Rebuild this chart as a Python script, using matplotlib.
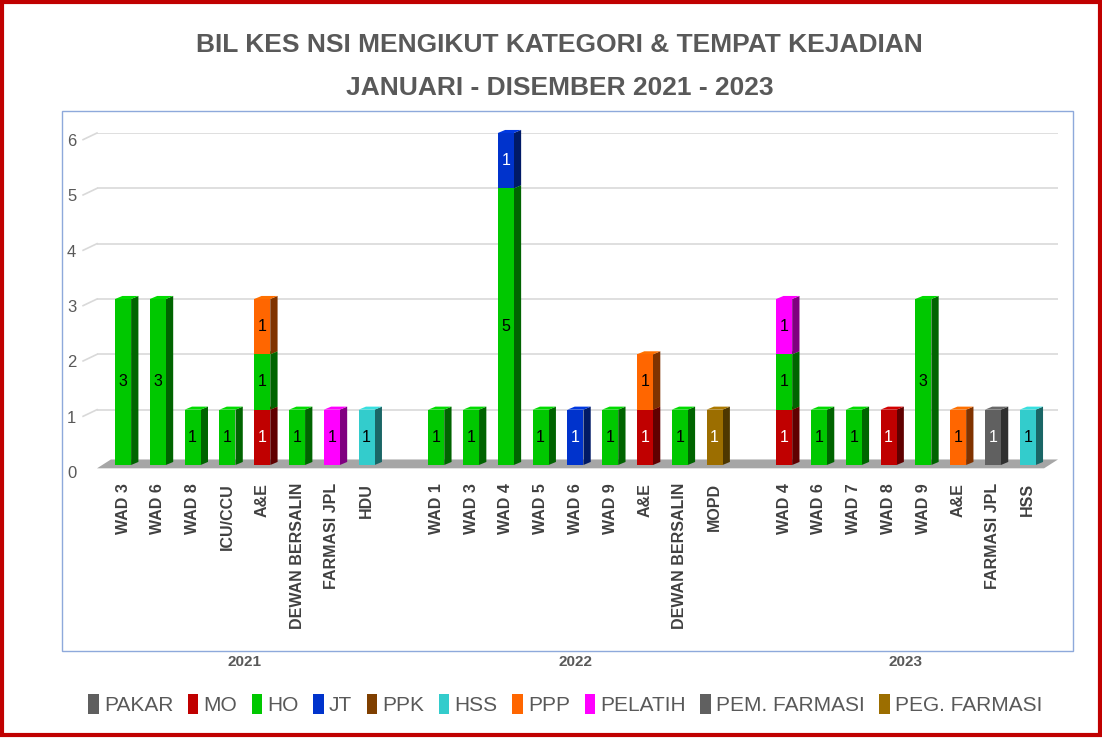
import matplotlib.pyplot as plt
import numpy as np
from matplotlib.patches import Polygon, Rectangle, Patch
from matplotlib.transforms import ScaledTranslation
from matplotlib.colors import to_rgb

plt.rcParams['font.family'] = ['Liberation Sans', 'DejaVu Sans']

places = ['WAD 3', 'WAD 6', 'WAD 8', 'ICU/CCU', 'A&E', 'DEWAN BERSALIN', 'FARMASI JPL', 'HDU',
          'WAD 1', 'WAD 3', 'WAD 4', 'WAD 5', 'WAD 6', 'WAD 9', 'A&E', 'DEWAN BERSALIN', 'MOPD',
          'WAD 4', 'WAD 6', 'WAD 7', 'WAD 8', 'WAD 9', 'A&E', 'FARMASI JPL', 'HSS']
years = ['2021'] * 8 + ['2022'] * 9 + ['2023'] * 8

pakar   = [0, 0, 0, 0, 0, 0, 0, 0,  0, 0, 0, 0, 0, 0, 0, 0, 0,  0, 0, 0, 0, 0, 0, 0, 0]
mo      = [0, 0, 0, 0, 1, 0, 0, 0,  0, 0, 0, 0, 0, 0, 1, 0, 0,  1, 0, 0, 1, 0, 0, 0, 0]
ho      = [3, 3, 1, 1, 1, 1, 0, 0,  1, 1, 5, 1, 0, 1, 0, 1, 0,  1, 1, 1, 0, 3, 0, 0, 0]
jt      = [0, 0, 0, 0, 0, 0, 0, 0,  0, 0, 1, 0, 1, 0, 0, 0, 0,  0, 0, 0, 0, 0, 0, 0, 0]
ppk     = [0, 0, 0, 0, 0, 0, 0, 0,  0, 0, 0, 0, 0, 0, 0, 0, 0,  0, 0, 0, 0, 0, 0, 0, 0]
hss     = [0, 0, 0, 0, 0, 0, 0, 1,  0, 0, 0, 0, 0, 0, 0, 0, 0,  0, 0, 0, 0, 0, 0, 0, 1]
ppp     = [0, 0, 0, 0, 1, 0, 0, 0,  0, 0, 0, 0, 0, 0, 1, 0, 0,  0, 0, 0, 0, 0, 1, 0, 0]
pelatih = [0, 0, 0, 0, 0, 0, 1, 0,  0, 0, 0, 0, 0, 0, 0, 0, 0,  1, 0, 0, 0, 0, 0, 0, 0]
pem     = [0, 0, 0, 0, 0, 0, 0, 0,  0, 0, 0, 0, 0, 0, 0, 0, 0,  0, 0, 0, 0, 0, 0, 1, 0]
peg     = [0, 0, 0, 0, 0, 0, 0, 0,  0, 0, 0, 0, 0, 0, 0, 0, 1,  0, 0, 0, 0, 0, 0, 0, 0]

series_names = ['PAKAR', 'MO', 'HO', 'JT', 'PPK', 'HSS', 'PPP', 'PELATIH', 'PEM. FARMASI', 'PEG. FARMASI']
series_vals = [pakar, mo, ho, jt, ppk, hss, ppp, pelatih, pem, peg]
colors = ['#5F5F5F', '#C00000', '#00C800', '#0033CC', '#7F3F00', '#33CCCC',
          '#FF6600', '#FF00FF', '#606060', '#9C6E00']
label_col = ['white', 'white', 'black', 'white', 'white', 'black',
             'black', 'black', 'white', 'white']

# positions with one blank slot between years
year_list = ['2021', '2022', '2023']
xpos = np.array([i + year_list.index(y) for i, y in enumerate(years)], dtype=float)

fig = plt.figure(figsize=(11.02, 7.38), dpi=100)
ax = fig.add_axes([97 / 1102, (738 - 465) / 738, 961 / 1102, 332 / 738])

w = 0.46      # front face
d = 0.21      # depth (side face)
dy = 0.055    # depth rise

bottom = np.zeros(len(places))
for name, vals, c, lc in zip(series_names, series_vals, colors, label_col):
    vals = np.array(vals, dtype=float)
    side = tuple(np.array(to_rgb(c)) * 0.5)
    top = tuple(np.minimum(np.array(to_rgb(c)) * 1.1, 1))
    for x, v, b in zip(xpos, vals, bottom):
        if v == 0:
            continue
        y0, y1 = b, b + v
        ax.add_patch(Polygon([(x + w / 2, y0), (x + w / 2 + d, y0 + dy),
                              (x + w / 2 + d, y1 + dy), (x + w / 2, y1)],
                             closed=True, fc=side, ec='none', zorder=3, clip_on=False))
        ax.add_patch(Polygon([(x - w / 2, y1), (x - w / 2 + d, y1 + dy),
                              (x + w / 2 + d, y1 + dy), (x + w / 2, y1)],
                             closed=True, fc=top, ec='none', zorder=3, clip_on=False))
    ax.bar(xpos, vals, width=w, bottom=bottom, color=c, zorder=3, clip_on=False)
    for x, v, b in zip(xpos, vals, bottom):
        if v > 0:
            ax.text(x, b + v / 2, '%d' % v, ha='center', va='center',
                    fontsize=11.5, color=lc, zorder=5)
    bottom += vals

# floor slab
x0, x1 = -0.75, xpos[-1] + 0.87
ax.add_patch(Polygon([(x0, -0.06), (x1 - 0.4, -0.06), (x1, 0.1), (x0 + 0.4, 0.1)],
                     closed=True, fc='#A6A6A6', ec='none', zorder=2, clip_on=False))

ax.set_xlim(x0, x1)
ax.set_ylim(0, 6)
ax.set_yticks(range(0, 7))
for k in range(1, 7):
    ax.axhline(k, color='#D9D9D9', lw=1.2, zorder=1)
    ax.plot([-1.15, x0], [k - 0.12, k], color='#D9D9D9', lw=1.2, clip_on=False, zorder=1)
ax.tick_params(axis='y', length=0, pad=15, labelsize=12, labelcolor='#595959')
for lab in ax.get_yticklabels():
    lab.set_transform(lab.get_transform() + ScaledTranslation(0, -5 / 72, fig.dpi_scale_trans))

ax.set_xticks(xpos)
ax.set_xticklabels(places, rotation=90, fontsize=11.5, fontweight='bold', color='#404040')
ax.tick_params(axis='x', length=0, pad=13)
for s in ax.spines.values():
    s.set_visible(False)

for y in year_list:
    xs = xpos[[i for i, yy in enumerate(years) if yy == y]]
    ax.text(xs.mean(), -0.593, y, transform=ax.get_xaxis_transform(), ha='center', va='center',
            fontsize=11, fontweight='bold', color='#595959')

# plot area frame and outer border
fig.patches.append(Rectangle((62 / 1102, (738 - 651) / 738), 1011 / 1102, 540 / 738,
                             transform=fig.transFigure, fill=False, ec='#8EA9DB', lw=1))
fig.patches.append(Rectangle((0.002, 0.004), 0.996, 0.993, transform=fig.transFigure,
                             fill=False, ec='#C00000', lw=3))

fig.text(0.508, 0.939, 'BIL KES NSI MENGIKUT KATEGORI & TEMPAT KEJADIAN', ha='center', va='center',
         fontsize=19, fontweight='bold', color='#595959')
fig.text(0.508, 0.881, 'JANUARI - DISEMBER 2021 - 2023', ha='center', va='center',
         fontsize=19, fontweight='bold', color='#595959')

handles = [Patch(facecolor=c, edgecolor='none', label=n) for n, c in zip(series_names, colors)]
leg = fig.legend(handles=handles, loc='center', bbox_to_anchor=(0.513, 0.046), ncol=10,
                 frameon=False, handlelength=0.5, handleheight=1.1, handletextpad=0.25,
                 columnspacing=0.7, fontsize=15)
for t in leg.get_texts():
    t.set_color('#595959')

fig.savefig('out.png', dpi=100)
